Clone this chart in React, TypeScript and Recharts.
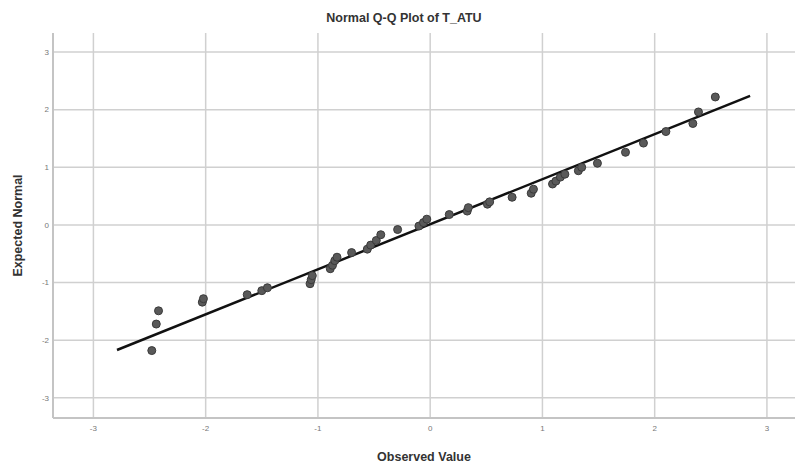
import { ScatterChart, Scatter, XAxis, YAxis, CartesianGrid, ReferenceLine, Label } from 'recharts';

const observed = [
  -2.48, -2.44, -2.42, -2.03, -2.02, -1.63, -1.5, -1.45, -1.07, -1.06, -1.05,
  -0.89, -0.87, -0.85, -0.83, -0.7, -0.56, -0.53, -0.48, -0.44, -0.29, -0.1,
  -0.06, -0.03, 0.17, 0.33, 0.34, 0.51, 0.53, 0.73, 0.9, 0.92, 1.09, 1.12,
  1.16, 1.2, 1.32, 1.35, 1.49, 1.74, 1.9, 2.1, 2.34, 2.39, 2.54,
];
const expected = [
  -2.18, -1.72, -1.49, -1.34, -1.28, -1.21, -1.14, -1.09, -1.02, -0.95, -0.88,
  -0.76, -0.7, -0.62, -0.56, -0.48, -0.42, -0.35, -0.27, -0.17, -0.08, -0.02,
  0.04, 0.1, 0.18, 0.24, 0.3, 0.36, 0.4, 0.48, 0.55, 0.62, 0.71, 0.76,
  0.83, 0.88, 0.94, 1.0, 1.07, 1.26, 1.42, 1.62, 1.76, 1.96, 2.22,
];
const fitLine = [
  { x: -2.79, y: -2.17 },
  { x: 2.85, y: 2.24 },
];
const axisTicks = [-3, -2, -1, 0, 1, 2, 3];

const points = observed.map((x, i) => ({ x, y: expected[i] }));

const Dot = (props: any) => {
  const { cx, cy } = props;
  return <circle cx={cx} cy={cy} r={4} fill="#595959" stroke="#3a3a3a" strokeWidth={1} />;
};

export default function App() {
  return (
    <div style={{ position: 'absolute', left: 0, top: 0, width: 795, height: 464, background: '#fff', fontFamily: 'Liberation Sans, Arial, sans-serif' }}>
      <div style={{ position: 'absolute', left: 0, width: 808, top: 11, textAlign: 'center', fontSize: 12.5, fontWeight: 'bold', color: '#333' }}>
        Normal Q-Q Plot of T_ATU
      </div>
      <ScatterChart width={795} height={464} margin={{ top: 33, right: 0, bottom: 0, left: 0 }}>
        <CartesianGrid stroke="#d0d0d0" strokeWidth={1.5} verticalValues={axisTicks} horizontalValues={axisTicks} />
        <XAxis
          type="number"
          dataKey="x"
          domain={[-3.36, 3.25]}
          ticks={axisTicks}
          allowDataOverflow
          height={46}
          axisLine={{ stroke: '#c4c4c4', strokeWidth: 2 }}
          tickLine={false}
          tickSize={0}
          tick={{ fontSize: 8, fill: '#777' }}
          tickMargin={7}
        >
          <Label value="Observed Value" position="insideBottom" offset={3} style={{ fontSize: 12.5, fontWeight: 'bold', fill: '#333' }} />
        </XAxis>
        <YAxis
          type="number"
          dataKey="y"
          domain={[-3.35, 3.33]}
          ticks={axisTicks}
          allowDataOverflow
          width={53}
          axisLine={{ stroke: '#c4c4c4', strokeWidth: 2 }}
          tickLine={false}
          tickSize={0}
          tick={{ fontSize: 8, fill: '#777' }}
          tickMargin={4}
        >
          <Label value="Expected Normal" angle={-90} position="insideLeft" offset={18} style={{ textAnchor: 'middle', fontSize: 12.5, fontWeight: 'bold', fill: '#333' }} />
        </YAxis>
        <Scatter data={points} shape={<Dot />} isAnimationActive={false} />
        <ReferenceLine segment={fitLine} stroke="#111" strokeWidth={2.5} ifOverflow="visible" />
      </ScatterChart>
    </div>
  );
}
